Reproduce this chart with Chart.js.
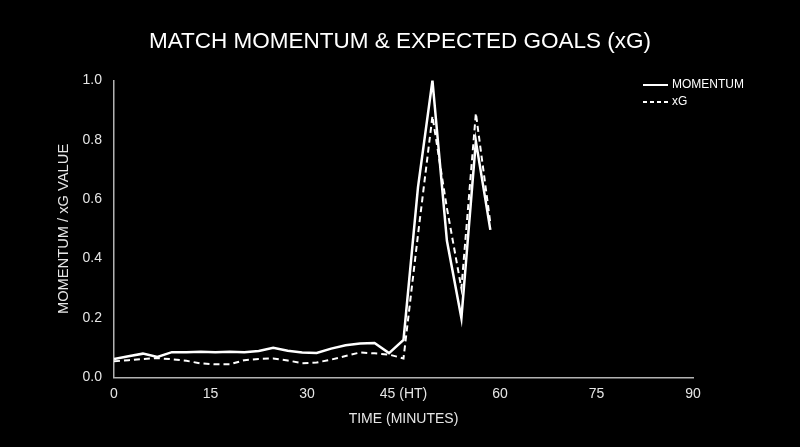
<!DOCTYPE html>
<html>
<head>
<meta charset="utf-8">
<script src="https://cdn.jsdelivr.net/npm/chart.js@4.4.1/dist/chart.umd.min.js"></script>
<style>
  html, body { margin: 0; padding: 0; background: #000; }
  #wrap { width: 800px; height: 447px; position: relative; }
</style>
</head>
<body>
<div id="wrap"><canvas id="momentumChart"></canvas></div>
<script>
// data (one sample every 2.25 minutes)
const minutes = [0, 2.25, 4.5, 6.75, 9, 11.25, 13.5, 15.75, 18, 20.25, 22.5, 24.75, 27,
                 29.25, 31.5, 33.75, 36, 38.25, 40.5, 42.75, 45, 47.25, 49.5, 51.75, 54, 56.25, 58.5];
const momentum = [0.062, 0.071, 0.080, 0.069, 0.085, 0.085, 0.086, 0.085, 0.086, 0.085, 0.089, 0.100, 0.090,
                  0.084, 0.082, 0.097, 0.108, 0.114, 0.116, 0.082, 0.126, 0.64, 1.0, 0.46, 0.20, 0.795, 0.497];
const xg = [0.054, 0.058, 0.062, 0.065, 0.061, 0.056, 0.047, 0.044, 0.044, 0.058, 0.062, 0.064, 0.057,
            0.048, 0.050, 0.060, 0.072, 0.084, 0.081, 0.077, 0.064, 0.48, 0.88, 0.57, 0.30, 0.89, 0.52];
const xTicks = [0, 15, 30, 45, 60, 75, 90];
const xTickLabels = ['0', '15', '30', '45 (HT)', '60', '75', '90'];

const FONT = '"Liberation Sans", Arial, Helvetica, sans-serif';
const TEXT = '#e6e6e6';

// legend drawn inside the plot, top right
const insideLegend = {
    id: 'insideLegend',
    afterDraw(chart) {
        const ctx = chart.ctx;
        ctx.save();
        chart.data.datasets.forEach((ds, i) => {
            const y = 85 + i * 17;
            ctx.beginPath();
            ctx.strokeStyle = '#fff';
            ctx.lineWidth = 2;
            ctx.setLineDash(ds.borderDash && ds.borderDash.length ? [4, 3] : []);
            ctx.moveTo(643, y);
            ctx.lineTo(668, y);
            ctx.stroke();
            ctx.setLineDash([]);
            ctx.fillStyle = '#fff';
            ctx.font = '12px ' + FONT;
            ctx.textBaseline = 'middle';
            ctx.fillText(ds.label, 672, y);
        });
        ctx.restore();
    }
};

const ctx = document.getElementById('momentumChart').getContext('2d');
new Chart(ctx, {
    type: 'line',
    data: {
        datasets: [{
            label: 'MOMENTUM',
            data: minutes.map((m, i) => ({ x: m, y: momentum[i] })),
            borderColor: '#ffffff',
            borderWidth: 2.5,
            pointRadius: 0,
            tension: 0
        }, {
            label: 'xG',
            data: minutes.map((m, i) => ({ x: m, y: xg[i] })),
            borderColor: '#ffffff',
            borderWidth: 2,
            borderDash: [6, 4],
            pointRadius: 0,
            tension: 0
        }]
    },
    options: {
        responsive: true,
        maintainAspectRatio: false,
        animation: false,
        layout: {
            padding: { left: 0, right: 0, top: 0, bottom: 8 }
        },
        plugins: {
            legend: { display: false },
            tooltip: { enabled: false },
            title: {
                display: true,
                text: 'MATCH MOMENTUM & EXPECTED GOALS (xG)',
                color: '#ffffff',
                font: { family: FONT, size: 22.5, weight: 'normal' },
                padding: { top: 28, bottom: 25.5 }
            }
        },
        scales: {
            x: {
                type: 'linear',
                min: 0,
                max: 90,
                afterBuildTicks: axis => { axis.ticks = xTicks.map(v => ({ value: v })); },
                ticks: {
                    color: TEXT,
                    padding: 8,
                    maxRotation: 0,
                    font: { family: FONT, size: 14 },
                    callback: v => xTickLabels[xTicks.indexOf(v)]
                },
                grid: { display: false, drawTicks: false },
                border: { display: true, color: '#b3b3b3', width: 1.5 },
                title: {
                    display: true,
                    text: 'TIME (MINUTES)',
                    color: TEXT,
                    font: { family: FONT, size: 14 },
                    padding: { top: 1, bottom: 11 }
                }
            },
            y: {
                min: 0,
                max: 1,
                afterFit: s => { s.width = 114; },
                ticks: {
                    stepSize: 0.2,
                    color: TEXT,
                    padding: 12,
                    font: { family: FONT, size: 14 },
                    callback: v => v.toFixed(1)
                },
                grid: { display: false, drawTicks: false },
                border: { display: true, color: '#b3b3b3', width: 1.5 },
                title: {
                    display: true,
                    text: 'MOMENTUM / xG VALUE',
                    color: TEXT,
                    font: { family: FONT, size: 14.7 },
                    padding: { top: 55, bottom: 7 }
                }
            },
            // empty right-hand axis only reserves room for the in-plot legend
            yRight: {
                position: 'right',
                afterFit: s => { s.width = 107; },
                ticks: { display: false },
                grid: { display: false, drawTicks: false },
                border: { display: false }
            }
        }
    },
    plugins: [insideLegend]
});
</script>
</body>
</html>
